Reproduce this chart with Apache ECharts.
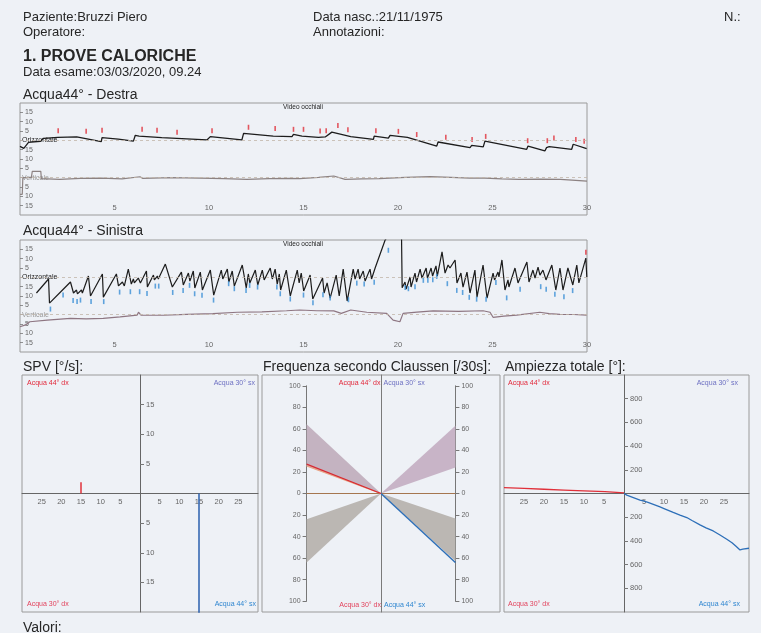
<!DOCTYPE html>
<html><head><meta charset="utf-8">
<script src="https://cdn.jsdelivr.net/npm/echarts@6/dist/echarts.min.js"></script>
<style>html,body{margin:0;padding:0;background:#eef1f6;}#c{width:761px;height:633px;}</style>
</head><body><div id="c"></div><script>
// ---------- texts ----------
const headerLeft = ['Paziente:Bruzzi Piero', 'Operatore:'];
const headerMid = ['Data nasc.:21/11/1975', 'Annotazioni:'];
const headerRight = 'N.:';
const sectionTitle = '1. PROVE CALORICHE';
const examDate = 'Data esame:03/03/2020, 09.24';
const panelTitles = ['Acqua44° - Destra', 'Acqua44° - Sinistra'];
const bottomTitles = ['SPV [°/s]:', 'Frequenza secondo Claussen [/30s]:', 'Ampiezza totale [°]:'];
const quadrantLabels = ['Acqua 44° dx', 'Acqua 30° sx', 'Acqua 30° dx', 'Acqua 44° sx'];
const videoLabel = 'Video occhiali';
const footer = 'Valori:';

// ---------- tick labels ----------
const timeTickValues = [5, 10, 15, 20, 25, 30];
const traceTickValues = [15, 10, 5, 0, -5, -10, -15, -20, -25, -30, -35];
const traceTickLabels = ['15', '10', '5', 'Orizzontale', '15', '10', '5', 'Verticale', '5', '10', '15'];
const quadXTicks = [-25, -20, -15, -10, -5, 5, 10, 15, 20, 25];
const spvYTicks = [-15, -10, -5, 5, 10, 15];
const clausYTicks = [-100, -80, -60, -40, -20, 0, 20, 40, 60, 80, 100];
const ampYTicks = [-800, -600, -400, -200, 200, 400, 600, 800];

// ---------- Destra (panel 1) ----------
const p1Horizontal = [[0.0,-3.2],[0.2,-4.3],[0.45,-1.1],[1.08,-0.5],[1.24,1.1],[2.0,1.6],[3.0,1.8],[4.3,-0.7],[4.34,1.4],[5.2,0.6],[6.0,-0.4],[6.1,2.7],[6.3,2.3],[7.5,1.4],[9.89,0.2],[10.07,2.0],[11.74,0.2],[11.83,3.7],[13.4,2.3],[13.45,2.9],[14.39,2.0],[14.47,3.2],[14.92,2.3],[14.97,2.8],[15.79,1.6],[15.82,2.2],[16.15,1.8],[16.2,2.4],[16.5,4.4],[17.5,2.0],[18.7,0.5],[18.74,2.3],[19.49,1.2],[19.58,2.7],[20.5,1.6],[22.05,-3.1],[22.12,-0.9],[23.81,-3.9],[23.9,-2.7],[24.51,-3.5],[24.6,-0.4],[26.81,-4.8],[26.88,-3.1],[27.77,-5.7],[27.86,-3.9],[28.0,-3.4],[29.19,-4.8],[29.27,-2.1],[29.98,-4.4]];
const p1Vertical = [[0,-28.9],[0.12,-28.9],[0.15,-20],[0.6,-20],[0.65,-16.6],[1.1,-16.6],[1.13,-20.5],[2.1,-20.9],[3.2,-20.4],[4.3,-20.2],[5.4,-20.6],[6.35,-19.5],[6.5,-20.4],[8.0,-20.0],[9.5,-20.2],[10.8,-20.5],[12.0,-20.9],[13.2,-20.5],[14.3,-20.4],[14.8,-20.5],[15.8,-19.8],[16.6,-19.1],[17.2,-20.9],[18.1,-20.6],[19.0,-20.5],[20.4,-19.8],[21.7,-19.4],[22.8,-19.8],[23.8,-20.2],[24.6,-20.2],[25.5,-20.6],[26.4,-20.9],[27.5,-20.8],[28.6,-20.9],[30,-21.8]];
const p1Beats = [[2.02,5.1],[3.5,4.8],[4.34,5.4],[6.46,5.9],[7.25,5.4],[8.31,4.3],[10.16,5.1],[12.09,7.0],[13.5,6.4],[14.47,5.9],[15.0,5.9],[15.88,5.0],[16.2,5.2],[16.82,7.9],[17.35,5.7],[18.83,5.2],[20.02,4.8],[20.99,3.1],[22.53,1.6],[23.92,0.4],[24.64,2.1],[26.86,-0.2],[27.9,-0.2],[28.25,1.2],[29.41,0.4],[29.85,-0.5]];

// ---------- Sinistra (panel 2) ----------
const p2Horizontal = [[0.87,-8.4],[1.51,-0.9],[1.56,-13.8],[2.25,-6.8],[2.67,-2.5],[2.83,-8.4],[2.99,-6.8],[3.04,-8.9],[3.25,-6.8],[3.30,-8.4],[3.62,0.7],[3.73,-10.0],[4.36,1.8],[4.41,-10.6],[5.10,1.8],[5.21,-4.6],[5.42,-2.5],[5.52,-4.6],[5.73,4.4],[5.89,-3.6],[6.0,-0.9],[6.05,-3.0],[6.26,-0.4],[6.37,-3.0],[6.69,3.4],[6.74,-5.2],[7.06,1.2],[7.11,-1.4],[7.27,0.7],[7.32,-0.9],[7.69,7.1],
[8.06,-5.2],[8.54,2.8],[8.64,-4.1],[8.91,2.3],[8.99,-2.0],[9.17,3.4],[9.25,-5.7],[9.54,2.8],[9.65,-6.8],[10.07,3.9],[10.25,-9.5],[10.65,3.9],[10.73,-0.9],[10.97,4.4],[11.05,-2.5],[11.23,3.4],[11.34,-4.7],[11.76,6.6],[11.97,-5.7],[12.08,1.8],[12.16,-3.0],[12.45,3.9],[12.58,-4.1],[12.82,3.9],[12.92,-1.4],[13.24,5.0],[13.35,-0.9],[13.5,4.4],[13.61,-3.6],[13.72,1.8],[13.79,-6.8],[14.09,3.9],[14.3,-10.0],[14.67,3.9],[14.77,-3.0],[14.88,2.3],[15.01,-7.3],
[15.35,1.2],[15.49,-11.6],[16.01,-0.4],[16.09,-8.4],[16.25,-3.0],[16.41,-11.1],[16.73,1.2],[16.89,-10.0],[17.1,4.4],[17.31,-12.7],[17.63,4.4],[17.73,-0.9],[17.89,4.4],[17.97,-0.9],[18.16,3.4],[18.26,-2.0],[18.52,4.4],[18.6,-0.9],[18.79,5.0],[19.32,20.0],[19.85,27],[20.18,27],[20.22,-5.6],
[20.37,-2.5],[20.43,-6.3],[20.64,0.2],[20.69,-5.2],[20.9,2.3],[20.98,-2.5],[21.17,4.4],[21.27,-0.4],[21.49,5.0],[21.56,-0.4],[21.75,5.0],[21.83,0.7],[22.01,6.1],[22.08,0.7],[22.33,13.6],
[22.49,2.3],[22.65,6.6],[22.75,5.0],[23.02,9.3],[23.12,-3.0],[23.33,2.3],[23.44,-5.2],[23.65,2.8],[23.81,-8.4],[24.07,3.9],[24.18,-10.6],[24.5,6.6],[24.71,-11.1],[25.03,2.3],[25.11,-1.4],[25.29,2.8],[25.34,0.2],[25.5,9.3],[25.66,-6.8],[25.82,-1.4],[25.87,-5.2],[26.19,5.0],[26.35,-3.0],[26.82,8.2],[26.93,-2.5],[27.14,3.9],[27.25,-0.4],[27.41,5.5],[27.51,1.2],[27.67,3.9],[27.83,-1.4],[28.14,6.6],[28.35,-6.8],[28.57,5.0],[28.73,-6.8],[28.99,5.0],[29.25,-4.1],[29.46,6.6],[29.57,-3.0],[29.94,10.3],[29.99,0.2]];
const p2Vertical = [[0,-26.5],[0.29,-25.5],[0.52,-23.8],[1.44,-22.9],[2.67,-22.0],[3.5,-22.3],[4.4,-22.0],[5.3,-21.2],[6.2,-20.2],[6.27,-18.7],[6.4,-20.2],[7.6,-20.3],[8.8,-19.8],[10.2,-19.4],[11.5,-18.7],[12.8,-18.5],[14.1,-17.9],[14.8,-17.5],[15.7,-17.9],[16.6,-18.0],[17.0,-19.3],[17.5,-17.5],[18.35,-18.7],[19.4,-19.3],[19.74,-22.9],[20.1,-23.8],[20.27,-19.3],[21.0,-18.6],[21.86,-18.0],[23.2,-18.2],[24.5,-17.9],[24.87,-18.7],[25.03,-21.4],[25.6,-20.8],[26.28,-20.2],[27.5,-18.7],[28.0,-19.4],[28.57,-19.8],[29.3,-19.9],[29.98,-20.2]];
const p2Beats = [[1.61,-17.0],[2.28,-9.5],[2.81,-12.4],[3.02,-13.0],[3.2,-12.2],[3.76,-13.0],[4.43,-13.0],[5.27,-7.9],[5.84,-7.7],[6.33,-7.7],[6.72,-8.7],[7.16,-4.7],[7.34,-4.7],[8.08,-8.1],[8.63,-7.1],[8.97,-4.3],[9.24,-8.8],[9.63,-9.6],[10.24,-12.2],[11.04,-3.4],[11.34,-6.1],[11.96,-7.0],[12.15,-4.3],[12.57,-5.2],[13.59,-5.2],[13.77,-8.8],[14.3,-11.6],[15.0,-9.5],[15.5,-13.6],[16.03,-9.3],[16.41,-11.1],[17.38,-12.0],[17.82,-3.1],[18.21,-3.6],[18.74,-2.7],[19.49,14.5],[20.38,-5.5],[20.55,-6.1],[20.9,-5.0],[21.34,-1.6],[21.58,-1.6],[21.84,-1.3],[22.05,0.5],[22.61,-3.4],[23.11,-7.0],[23.42,-8.1],[23.77,-10.7],[24.16,-11.7],[24.66,-11.7],[25.18,-2.8],[25.75,-11.0],[26.46,-6.4],[27.55,-5.0],[27.84,-6.4],[28.3,-9.1],[28.78,-10.4],[29.24,-7.1]];
const p2RedBeats = [[29.94,13.5]];

// ---------- SPV ----------
const spvDx44 = [[-15, 0], [-15, 1.9]];
const spvSx44 = [[15, 0], [15, -21]];

// ---------- Claussen ----------
const clausFans = [[-30, 25.6, 64.3], [-30, -23.9, -64.0], [30, 24.1, 62.8], [30, -23.2, -62.6]];
const clausZero = [[-30, 0], [30, 0]];
const clausDx44 = [[-30, 27.2], [0, 0]];
const clausDx44Band = [[-30, 25.6], [0, 0]];
const clausSx44 = [[0, 0], [30, -64]];

// ---------- Ampiezza ----------
const ampDx44 = [[-30, 50], [-25, 43], [-20, 36], [-15, 29], [-10, 22], [-4.75, 15], [0, 6]];
const ampSx44 = [[0,0],[0.7,-14],[2,-30],[4,-55],[4.8,-62],[6,-75],[8,-100],[9,-113],[10,-127],[12.3,-160],[14,-182],[15.7,-203],[17,-228],[19,-265],[20.5,-290],[22.3,-316],[24,-350],[25.7,-386],[27,-415],[28,-445],[29,-476],[29.7,-470],[31.25,-462]];

// ---------- build ----------
const FONT = "'Liberation Sans', Arial, sans-serif";
const INK = '#262626';
const qColors = ['#e2283a', '#6d70c2', '#e2425c', '#2f86d0'];

function txt(text, x, y, size, color, opt) {
  opt = opt || {};
  return { type: 'text', x: x, y: y, silent: true, z: 50,
    style: { text: text, fill: color, font: (opt.bold ? 'bold ' : '') + size + 'px ' + FONT,
      align: opt.align || 'left', verticalAlign: 'middle' } };
}
const graphics = [
  txt(headerLeft[0], 23, 17.5, 13, INK), txt(headerLeft[1], 23, 32.5, 13, INK),
  txt(headerMid[0], 313, 17.5, 13, INK), txt(headerMid[1], 313, 32.5, 13, INK),
  txt(headerRight, 724, 17.5, 13, INK),
  txt(sectionTitle, 23, 56.5, 16, INK, { bold: true }),
  txt(examDate, 23, 72.5, 13, INK),
  txt(panelTitles[0], 23, 95, 14, INK), txt(panelTitles[1], 23, 231.5, 14, INK),
  txt(videoLabel, 283, 107.5, 6.5, '#222'), txt(videoLabel, 283, 244.5, 6.5, '#222'),
  txt(bottomTitles[0], 23, 367.5, 14, INK), txt(bottomTitles[1], 263, 367.5, 14, INK), txt(bottomTitles[2], 505, 367.5, 14, INK),
  txt(footer, 23, 628, 14, INK),
  // SPV quadrants
  txt(quadrantLabels[0], 27, 382.7, 7, qColors[0]), txt(quadrantLabels[1], 255, 382.7, 7, qColors[1], { align: 'right' }),
  txt(quadrantLabels[2], 27, 604.3, 7, qColors[2]), txt(quadrantLabels[3], 256, 604.3, 7, qColors[3], { align: 'right' }),
  // Claussen quadrants
  txt(quadrantLabels[0], 380.5, 383.3, 7, qColors[0], { align: 'right' }), txt(quadrantLabels[1], 383.5, 383.3, 7, qColors[1]),
  txt(quadrantLabels[2], 381, 605, 7, qColors[2], { align: 'right' }), txt(quadrantLabels[3], 384, 605, 7, qColors[3]),
  // Ampiezza quadrants
  txt(quadrantLabels[0], 508, 382.7, 7, qColors[0]), txt(quadrantLabels[1], 738, 382.7, 7, qColors[1], { align: 'right' }),
  txt(quadrantLabels[2], 508, 604.3, 7, qColors[2]), txt(quadrantLabels[3], 740, 604.3, 7, qColors[3], { align: 'right' })
];

const absFmt = v => String(Math.abs(v));
const traceYAxis = (gi) => ({
  gridIndex: gi, type: 'value', min: -40, max: 20, interval: 5,
  axisLine: { show: false, onZero: false }, splitLine: { show: false },
  axisTick: { show: true, inside: true, length: 3, customValues: traceTickValues, lineStyle: { color: '#777', width: 0.8 } },
  axisLabel: { inside: true, margin: 2, customValues: traceTickValues, fontSize: 7, color: '#666',
    formatter: v => { const i = traceTickValues.indexOf(v); if (i < 0) return ''; const s = traceTickLabels[i];
      if (v === 0) return '{o|' + s + '}'; if (v === -20) return '{v|' + s + '}'; return '{n|' + s + '}'; },
    rich: { n: { fontSize: 7, color: '#666', padding: [0, 0, 0, 3], fontFamily: FONT },
            o: { fontSize: 7, color: '#222', fontFamily: FONT },
            v: { fontSize: 7, color: '#9a9a9a', fontFamily: FONT } } }
});
const timeXAxis = (gi) => ({
  gridIndex: gi, type: 'value', min: 0, max: 30, interval: 5,
  axisLine: { show: false, onZero: false }, axisTick: { show: false }, splitLine: { show: false },
  axisLabel: { inside: true, margin: 3, fontSize: 7.5, color: '#666', customValues: timeTickValues, showMaxLabel: true }
});
// quadrant axes: placed through the centre of the box with an inward offset
const quadX = (gi, max, offset) => ({
  gridIndex: gi, type: 'value', min: -30, max: max, interval: 5, position: 'bottom', offset: offset,
  axisLine: { show: true, onZero: false, lineStyle: { color: '#666', width: 1 } },
  axisTick: { show: false }, splitLine: { show: false },
  axisLabel: { customValues: quadXTicks, formatter: absFmt, fontSize: 7.5, color: '#666', margin: 4 }
});
const quadY = (gi, min, max, ticks, offset) => ({
  gridIndex: gi, type: 'value', min: min, max: max, position: 'left', offset: offset,
  axisLine: { show: true, onZero: false, lineStyle: { color: '#666', width: 1 } },
  axisTick: { show: true, inside: true, length: 4, customValues: ticks, lineStyle: { color: '#777' } },
  splitLine: { show: false },
  axisLabel: { inside: true, customValues: ticks, formatter: absFmt, fontSize: 7.5, color: '#666', margin: 6 }
});
const clausY = (pos) => ({
  gridIndex: 4, type: 'value', min: -100, max: 100, interval: 20, position: pos, offset: -44.6,
  axisLine: { show: true, onZero: false, lineStyle: { color: '#777', width: 1 } },
  axisTick: { show: true, length: 4, lineStyle: { color: '#777' } }, splitLine: { show: false },
  axisLabel: { formatter: absFmt, fontSize: 7, color: '#666', margin: 6 }
});

const line = (data, xi, yi, color, width, extra) => Object.assign({
  type: 'line', data: data, xAxisIndex: xi, yAxisIndex: yi, showSymbol: false, symbol: 'none',
  lineStyle: { color: color, width: width }, itemStyle: { color: color }, clip: true, silent: true, z: 3
}, extra || {});
const beats = (data, xi, yi, color) => ({
  type: 'scatter', data: data, xAxisIndex: xi, yAxisIndex: yi, symbol: 'rect', symbolSize: [1.6, 5],
  itemStyle: { color: color }, silent: true, z: 4
});
const zeroLines = {
  symbol: ['none', 'none'], silent: true, label: { show: false },
  lineStyle: { type: [3, 3], color: '#c2b6aa', width: 0.8 }, data: [{ yAxis: 0 }, { yAxis: -20 }]
};
const gridBox = { show: true, borderColor: '#9a9a9a', borderWidth: 1, backgroundColor: 'transparent' };

const option = {
  backgroundColor: '#eef1f6',
  animation: false,
  textStyle: { fontFamily: FONT },
  graphic: graphics,
  grid: [
    Object.assign({ left: 20, top: 103, width: 567, height: 112 }, gridBox),
    Object.assign({ left: 20, top: 240, width: 567, height: 112 }, gridBox),
    Object.assign({ left: 22, top: 375, width: 236, height: 237 }, gridBox),
    Object.assign({ left: 262, top: 375, width: 238, height: 237 }, gridBox),
    { left: 262, top: 385.8, width: 238, height: 215.4, show: false },
    Object.assign({ left: 504, top: 375, width: 245, height: 237 }, gridBox)
  ],
  xAxis: [
    timeXAxis(0), timeXAxis(1),
    quadX(2, 30, -118.5),
    { gridIndex: 3, type: 'value', min: -48, max: 48, show: false },
    { gridIndex: 4, type: 'value', min: -48, max: 48, show: false, axisLine: { onZero: false } },
    quadX(5, 31.25, -118.5)
  ],
  yAxis: [
    traceYAxis(0), traceYAxis(1),
    quadY(2, -20, 20, spvYTicks, -118),
    { gridIndex: 3, type: 'value', min: -110, max: 110,
      axisLine: { show: true, onZero: true, lineStyle: { color: '#7a7a7a', width: 1 } },
      axisTick: { show: false }, axisLabel: { show: false }, splitLine: { show: false } },
    clausY('left'), clausY('right'),
    quadY(5, -1000, 1000, ampYTicks, -120)
  ],
  series: [
    line(p1Vertical, 0, 0, '#8c8282', 1.2, { markLine: zeroLines }),
    line(p1Horizontal, 0, 0, '#1c1c1c', 1.3),
    beats(p1Beats, 0, 0, '#e0303a'),
    line(p2Vertical, 1, 1, '#8e7682', 1.2, { markLine: zeroLines }),
    line(p2Horizontal, 1, 1, '#1c1c1c', 1.2),
    beats(p2Beats, 1, 1, '#3a8fd6'),
    beats(p2RedBeats, 1, 1, '#e0303a'),
    line(spvDx44, 2, 2, '#e0303a', 1.5),
    line(spvSx44, 2, 2, '#2a5fae', 1.5),
    { type: 'custom', xAxisIndex: 4, yAxisIndex: 4, data: clausFans, silent: true, z: 1,
      renderItem: (p, api) => {
        const x = api.value(0), lo = api.value(1), hi = api.value(2);
        const o = api.coord([0, 0]), a = api.coord([x, lo]), b = api.coord([x, hi]);
        const upper = hi > 0;
        return { type: 'polygon', shape: { points: [o, a, b] },
          style: { fill: upper ? (x < 0 ? '#c4b3c1' : '#c8b4c7') : '#bbb7b3' } };
      } },
    line(clausZero, 4, 4, '#a5764f', 1),
    line(clausDx44Band, 4, 4, '#eaa586', 1.2),
    line(clausDx44, 4, 4, '#d82a32', 1.3),
    line(clausSx44, 4, 4, '#2d6fb8', 1.4),
    line(ampDx44, 5, 6, '#e0303a', 1.3),
    line(ampSx44, 5, 6, '#2d6fb8', 1.3)
  ]
};
const chart = echarts.init(document.getElementById('c'), null, { renderer: 'canvas' });
chart.setOption(option);
</script></body></html>
